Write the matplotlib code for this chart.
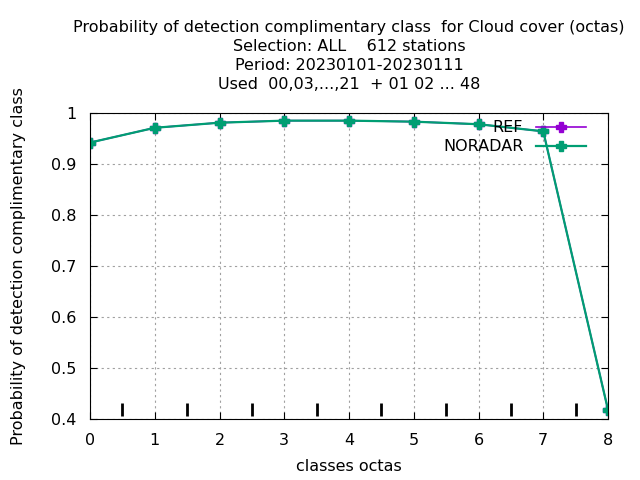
import numpy as np
import matplotlib
matplotlib.use('Agg')
import matplotlib.pyplot as plt

# data
classes = [0, 1, 2, 3, 4, 5, 6, 7, 8]
ref = [0.942, 0.971, 0.981, 0.985, 0.985, 0.983, 0.978, 0.964, 0.418]
noradar = [0.942, 0.971, 0.981, 0.985, 0.985, 0.983, 0.978, 0.964, 0.418]
boundaries = [0.5, 1.5, 2.5, 3.5, 4.5, 5.5, 6.5, 7.5]
title_lines = ['Probability of detection complimentary class  for Cloud cover (octas)',
               'Selection: ALL    612 stations',
               'Period: 20230101-20230111',
               'Used  00,03,...,21  + 01 02 ... 48']

fs = 11.5
fig = plt.figure(figsize=(6.4, 4.8), dpi=100)
ax = fig.add_axes([90/640, 61/480, 518/640, 306/480])

ax.plot(classes, ref, color='#9400d3', lw=1.2, marker='P', ms=7, label='REF')
ax.plot(classes, noradar, color='#009e73', lw=1.6, marker='P', ms=7, label='NORADAR')

# class boundary marks
ax.vlines(boundaries, 0.405, 0.432, color='black', lw=2)

ax.set_xlim(0, 8)
ax.set_ylim(0.4, 1.0)
ax.set_xticks(classes)
ax.set_yticks([0.4, 0.5, 0.6, 0.7, 0.8, 0.9, 1.0])
ax.set_yticklabels(['0.4', '0.5', '0.6', '0.7', '0.8', '0.9', '1'])
ax.tick_params(direction='in', top=True, right=True, length=5, labelsize=fs, pad=10)
ax.grid(True, color='#a0a0a0', ls=(0, (2, 3)), lw=0.8)

ax.set_xlabel('classes octas', fontsize=fs, labelpad=8)
ax.set_ylabel('Probability of detection complimentary class', fontsize=fs, labelpad=18)
fig.text(349/640, 1 - 20/480, '\n'.join(title_lines), ha='center', va='top',
         fontsize=fs, linespacing=1.33)

leg = ax.legend(loc='upper right', bbox_to_anchor=(1 - 16/518, 0.997), frameon=False,
                fontsize=fs, markerfirst=False, handlelength=3.1, handletextpad=0.8,
                borderaxespad=0, labelspacing=0.25)
for t in leg.get_texts():
    t.set_ha('right')
leg._legend_box.align = 'right'

fig.savefig('out.png', dpi=100)
